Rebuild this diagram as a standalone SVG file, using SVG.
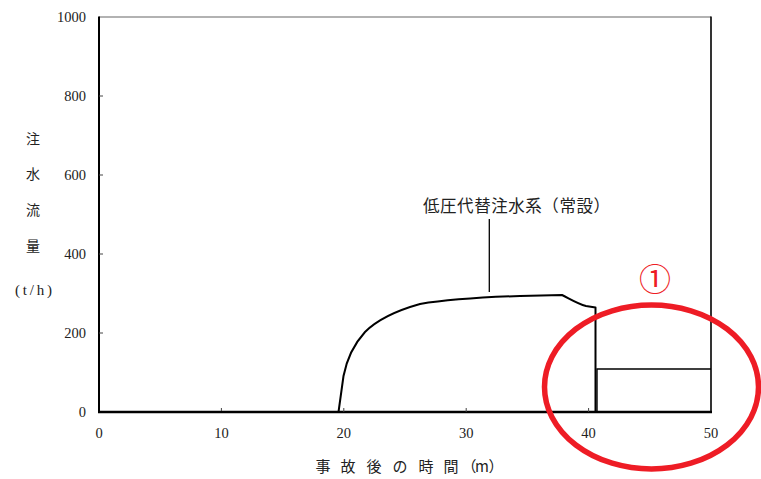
<svg xmlns="http://www.w3.org/2000/svg" width="761" height="479" viewBox="0 0 761 479">
<style>
.num{font-family:"Liberation Serif",serif;font-size:14.5px;fill:#222}
.jp{font-family:"Noto Sans CJK JP",sans-serif;fill:#222}
.ax{stroke:#000;fill:none}
.tick{stroke:#444;stroke-width:1}
</style>
<rect width="761" height="479" fill="#fff"/>
<g id="frame">
<line x1="99" y1="17" x2="711" y2="17" stroke="#999" stroke-width="1.5"/>
<line x1="711" y1="16.5" x2="711" y2="413" class="ax" stroke-width="1.6"/>
<line x1="99" y1="16.5" x2="99" y2="413" class="ax" stroke-width="2"/>
<line x1="98" y1="412" x2="712" y2="412" class="ax" stroke-width="2.6"/>
<path class="tick" d="M99 333H103M99 254H103M99 175H103M99 96H103M221.4 412V408M343.8 412V408M466.2 412V408M588.6 412V408"/>
</g>
<g id="y-ticks" class="num" text-anchor="end" dominant-baseline="central">
<text x="86" y="17">1000</text>
<text x="86" y="96">800</text>
<text x="86" y="175">600</text>
<text x="86" y="254">400</text>
<text x="86" y="333">200</text>
<text x="86" y="412">0</text>
</g>
<g id="x-ticks" class="num" text-anchor="middle" dominant-baseline="central">
<text x="99" y="433">0</text>
<text x="221.4" y="433">10</text>
<text x="343.8" y="433">20</text>
<text x="466.2" y="433">30</text>
<text x="588.6" y="433">40</text>
<text x="711" y="433">50</text>
</g>
<g id="y-title" class="jp" font-size="14" text-anchor="middle" dominant-baseline="central">
<text x="33" y="138">注</text>
<text x="33" y="173">水</text>
<text x="33" y="209">流</text>
<text x="33" y="245">量</text>
<text x="15" y="290" font-family="Liberation Serif,serif" font-size="15" text-anchor="start" textLength="37" lengthAdjust="spacing">(t/h)</text>
</g>
<g id="x-title">
<text class="jp" font-size="15" text-anchor="middle" dominant-baseline="central" y="465" x="323 348 374 400 426 451 469 482 496">事故後の時間（m）</text>
</g>
<g id="series-label">
<text class="jp" font-size="16.5" x="423" y="205" dominant-baseline="central" textLength="187" lengthAdjust="spacing">低圧代替注水系（常設）</text>
</g>
<g id="connectors">
<line x1="489.3" y1="219" x2="489.3" y2="292" stroke="#000" stroke-width="1.3"/>
<path d="M99 412H338.5L343.5 376C347 358 355 343 365 332C378 319 395 311 420 304C450 299 490 297 520 296L562 295C570 299 578 304 586 306L595.5 307.5V412" fill="none" stroke="#000" stroke-width="2" stroke-linejoin="round"/>
<path d="M597 412V369H711" fill="none" stroke="#000" stroke-width="1.4"/>
</g>
<g id="highlight">
<ellipse cx="651.5" cy="387" rx="107" ry="82" fill="none" stroke="#ee1c25" stroke-width="5.5"/>
<text x="655" y="277" font-family="Noto Sans CJK JP,sans-serif" font-size="32" fill="#ee1c25" text-anchor="middle" dominant-baseline="central">①</text>
</g>
</svg>
